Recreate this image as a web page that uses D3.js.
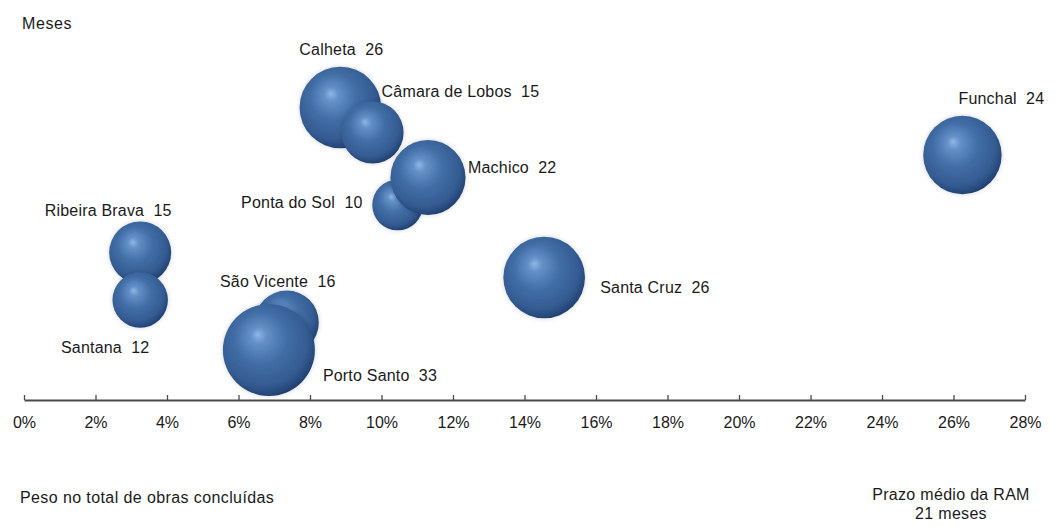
<!DOCTYPE html>
<html lang="pt">
<head>
<meta charset="utf-8">
<script src="https://cdn.jsdelivr.net/npm/d3@7"></script>
<style>
  html, body { margin: 0; padding: 0; background: #ffffff; }
  svg { display: block; }
  text { font-family: "Liberation Sans", Arial, sans-serif; fill: #1a1a1a; white-space: pre; }
</style>
</head>
<body>
<svg id="chart" width="1062" height="527" xml:space="preserve"></svg>
<script>
// Concelhos da RAM: peso no total de obras concluídas (%), posição vertical e prazo médio (meses)
const municipios = ["Calheta", "Câmara de Lobos", "Funchal", "Ponta do Sol", "Machico",
                    "Ribeira Brava", "Santana", "Santa Cruz", "São Vicente", "Porto Santo"];
const peso       = [8.85, 9.75, 26.25, 10.45, 11.3, 3.25, 3.25, 14.55, 7.35, 6.85];
const posicao    = [11.7, 10.7, 9.8, 7.8, 8.9, 5.9, 4.0, 4.9, 3.1, 2.0];
const prazo      = [26, 15, 24, 10, 22, 15, 12, 26, 16, 33];

const xTicks = [0, 2, 4, 6, 8, 10, 12, 14, 16, 18, 20, 22, 24, 26, 28];
const prazoRAM = 21;

// Label placement relative to each bubble: [dx, dy, anchor]
const labelPlacement = {
  "Calheta":         [1, -58, "middle"],
  "Câmara de Lobos": [9, -41, "start"],
  "Funchal":         [-4, -57, "start"],
  "Ponta do Sol":    [-35, -3, "end"],
  "Machico":         [40, -10, "start"],
  "Ribeira Brava":   [-32, -42, "middle"],
  "Santana":         [-35, 47, "middle"],
  "Santa Cruz":      [56, 10, "start"],
  "São Vicente":     [-9, -41, "middle"],
  "Porto Santo":     [54, 25, "start"]
};

const svg = d3.select("#chart");

const x = d3.scaleLinear().domain([0, 28]).range([24, 1025]);
const y = d3.scaleLinear().domain([0, 15]).range([400, 25]);
const r = d3.scaleSqrt().domain([0, 33]).range([0, 46]);

// Sphere shading
const defs = svg.append("defs");
const grad = defs.append("radialGradient")
  .attr("id", "sphere")
  .attr("cx", 0.45).attr("cy", 0.42).attr("r", 0.62)
  .attr("fx", 0.38).attr("fy", 0.33);
grad.selectAll("stop")
  .data([
    [0.00, "#8fb6e6"],
    [0.14, "#6490c8"],
    [0.45, "#426ea6"],
    [0.78, "#345c92"],
    [0.92, "#26477a"],
    [1.00, "#1a3157"]
  ])
  .join("stop")
  .attr("offset", d => d[0])
  .attr("stop-color", d => d[1]);

const glow = defs.append("filter").attr("id", "halo")
  .attr("x", "-20%").attr("y", "-20%").attr("width", "140%").attr("height", "140%");
glow.append("feGaussianBlur").attr("in", "SourceAlpha").attr("stdDeviation", 2.5).attr("result", "b");
glow.append("feComponentTransfer").attr("in", "b").attr("result", "bs")
  .append("feFuncA").attr("type", "linear").attr("slope", 0.18);
const merge = glow.append("feMerge");
merge.append("feMergeNode").attr("in", "bs");
merge.append("feMergeNode").attr("in", "SourceGraphic");

const data = municipios.map((m, i) => ({ nome: m, peso: peso[i], pos: posicao[i], prazo: prazo[i] }));

// Axis
const axis = d3.axisBottom(x)
  .tickValues(xTicks)
  .tickFormat(d => d + "%")
  .tickSizeInner(-5)
  .tickSizeOuter(0)
  .tickPadding(17);

const gAxis = svg.append("g")
  .attr("transform", `translate(0,${y(0)})`)
  .call(axis);
gAxis.select(".domain").attr("stroke", "#4a4a4a").attr("stroke-width", 2);
gAxis.selectAll(".tick line").attr("stroke", "#4a4a4a").attr("stroke-width", 1.3);
gAxis.selectAll(".tick text")
  .style("font-family", "\"Liberation Sans\", Arial, sans-serif")
  .style("font-size", "16px")
  .attr("fill", "#333");

// Bubbles
svg.append("g").selectAll("circle")
  .data(data)
  .join("circle")
  .attr("cx", d => x(d.peso))
  .attr("cy", d => y(d.pos))
  .attr("r", d => r(d.prazo))
  .attr("fill", "url(#sphere)")
  .attr("filter", "url(#halo)");

// Bubble labels
svg.append("g").selectAll("text")
  .data(data)
  .join("text")
  .attr("x", d => x(d.peso) + labelPlacement[d.nome][0])
  .attr("y", d => y(d.pos) + labelPlacement[d.nome][1])
  .attr("dy", "0.35em")
  .attr("text-anchor", d => labelPlacement[d.nome][2])
  .style("font-size", "16px")
  .style("letter-spacing", "0.2px")
  .text(d => `${d.nome}  ${d.prazo}`);

// Titles
svg.append("text")
  .attr("x", 22).attr("y", 23).attr("dy", "0.35em")
  .style("font-size", "16px").style("letter-spacing", "0.6px")
  .text("Meses");

svg.append("text")
  .attr("x", 20).attr("y", 497).attr("dy", "0.35em")
  .style("font-size", "16px").style("letter-spacing", "0.4px")
  .text("Peso no total de obras concluídas");

const ram = svg.append("text")
  .attr("x", 951).attr("y", 494)
  .attr("text-anchor", "middle")
  .style("font-size", "16px").style("letter-spacing", "0.3px");
ram.append("tspan").attr("x", 951).attr("dy", "0.35em").text("Prazo médio da RAM");
ram.append("tspan").attr("x", 951).attr("dy", "1.2em").text(`${prazoRAM} meses`);
</script>
</body>
</html>
